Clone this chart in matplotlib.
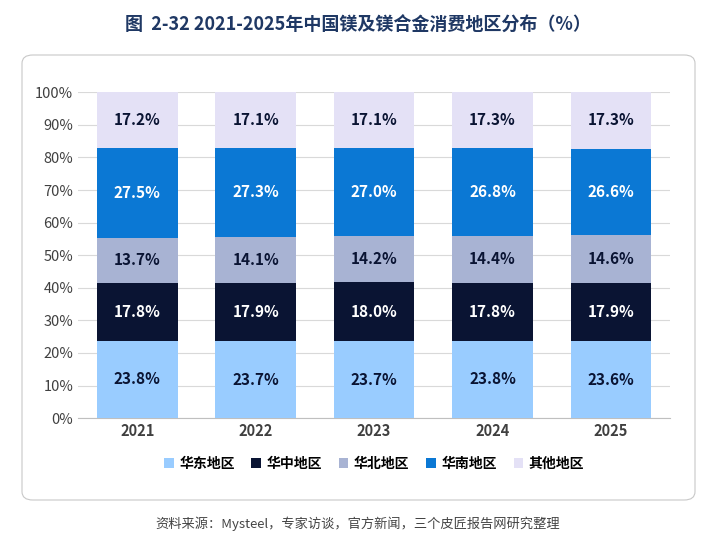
import matplotlib.pyplot as plt
from matplotlib.patches import FancyBboxPatch
import numpy as np

plt.rcParams['font.family'] = ['Noto Sans CJK SC', 'DejaVu Sans']

years = ['2021', '2022', '2023', '2024', '2025']
regions = ['华东地区', '华中地区', '华北地区', '华南地区', '其他地区']
east = [23.8, 23.7, 23.7, 23.8, 23.6]
central = [17.8, 17.9, 18.0, 17.8, 17.9]
north = [13.7, 14.1, 14.2, 14.4, 14.6]
south = [27.5, 27.3, 27.0, 26.8, 26.6]
other = [17.2, 17.1, 17.1, 17.3, 17.3]
series = [east, central, north, south, other]
colors = ['#99CCFF', '#0A1433', '#A8B3D3', '#0B78D4', '#E4E1F6']
text_colors = ['#0A1433', 'white', '#0A1433', 'white', '#0A1433']

fig = plt.figure(figsize=(7.16, 5.56), dpi=100)
fig.patches.append(FancyBboxPatch((22/716, 56/556), 673/716, 445/556,
                                  boxstyle='round,pad=0,rounding_size=0.015',
                                  transform=fig.transFigure, fill=False,
                                  edgecolor='#C8C8C8', linewidth=0.8))
fig.text(0.5, 0.955, '图  2-32 2021-2025年中国镁及镁合金消费地区分布（%）',
         ha='center', va='center', fontsize=13, fontweight='bold', color='#1F3864')
fig.text(0.5, 0.058, '资料来源：Mysteel，专家访谈，官方新闻，三个皮匠报告网研究整理',
         ha='center', va='center', fontsize=9.5, color='#444444')

ax = fig.add_axes([0.109, 0.248, 0.827, 0.586])
x = np.arange(len(years))
bottom = np.zeros(len(years))
for name, vals, c, tc in zip(regions, series, colors, text_colors):
    v = np.array(vals) / 100
    ax.bar(x, v, 0.68, bottom=bottom, color=c, label=name, zorder=3)
    for xi, b, val in zip(x, bottom, vals):
        ax.text(xi, b + val / 200, f'{val:.1f}%', ha='center', va='center',
                fontsize=11, fontweight='bold', color=tc, zorder=4)
    bottom += v

ax.set_ylim(0, 1)
ax.set_xlim(-0.5, 4.5)
ax.set_yticks(np.arange(0, 1.01, 0.1))
ax.set_yticklabels([f'{i}%' for i in range(0, 101, 10)], fontsize=10.5, color='#404040')
ax.set_xticks(x)
ax.set_xticklabels(years, fontsize=10.5, fontweight='bold', color='#404040')
ax.yaxis.grid(True, color='#D9D9D9', linewidth=0.8, zorder=0)
ax.tick_params(length=0)
for s in ['top', 'right', 'left']:
    ax.spines[s].set_visible(False)
ax.spines['bottom'].set_color('#BFBFBF')

ax.legend(loc='upper center', bbox_to_anchor=(0.5, -0.08), ncol=5, frameon=False,
          fontsize=10, handlelength=0.7, handleheight=0.7, columnspacing=1.2,
          handletextpad=0.4, prop={'weight': 'bold', 'size': 10})

fig.savefig('out.png', dpi=100)
